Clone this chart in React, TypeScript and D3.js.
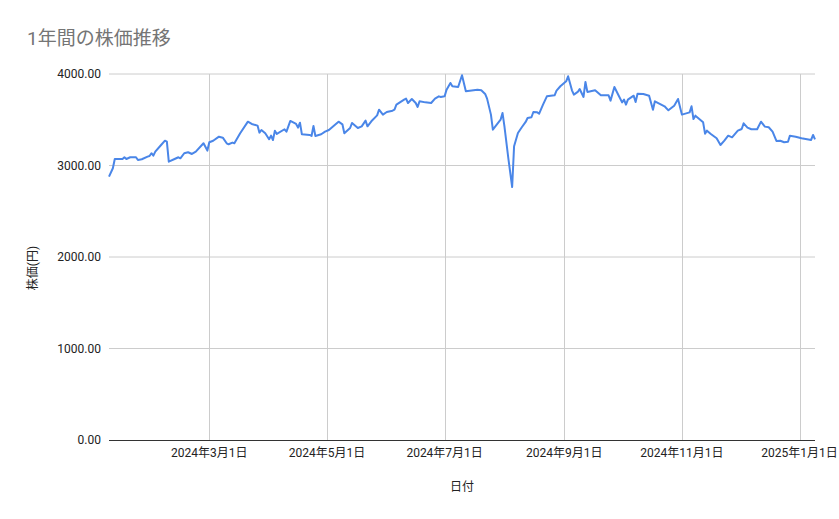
import React, { useEffect, useRef } from 'react';
import * as d3 from 'd3';

const dates: string[] = [
  '2024-01-09', '2024-01-11', '2024-01-12', '2024-01-16', '2024-01-17', '2024-01-18', '2024-01-20', '2024-01-23',
  '2024-01-24', '2024-01-26', '2024-01-29', '2024-01-30', '2024-01-31', '2024-02-01', '2024-02-02', '2024-02-05',
  '2024-02-07', '2024-02-08', '2024-02-09', '2024-02-12', '2024-02-14', '2024-02-15', '2024-02-17', '2024-02-19',
  '2024-02-21', '2024-02-23', '2024-02-27', '2024-02-29', '2024-03-01', '2024-03-03', '2024-03-06', '2024-03-08',
  '2024-03-10', '2024-03-11', '2024-03-13', '2024-03-14', '2024-03-17', '2024-03-21', '2024-03-23', '2024-03-26',
  '2024-03-27', '2024-03-28', '2024-03-30', '2024-04-01', '2024-04-02', '2024-04-03', '2024-04-04', '2024-04-05',
  '2024-04-09', '2024-04-10', '2024-04-12', '2024-04-15', '2024-04-16', '2024-04-17', '2024-04-18', '2024-04-22',
  '2024-04-23', '2024-04-24', '2024-04-25', '2024-04-28', '2024-04-30', '2024-05-02', '2024-05-07', '2024-05-09',
  '2024-05-10', '2024-05-13', '2024-05-14', '2024-05-17', '2024-05-19', '2024-05-21', '2024-05-22', '2024-05-24',
  '2024-05-27', '2024-05-28', '2024-05-30', '2024-06-01', '2024-06-04', '2024-06-05', '2024-06-06', '2024-06-10',
  '2024-06-11', '2024-06-12', '2024-06-14', '2024-06-16', '2024-06-17', '2024-06-18', '2024-06-21', '2024-06-24',
  '2024-06-26', '2024-06-28', '2024-06-29', '2024-07-01', '2024-07-02', '2024-07-04', '2024-07-05', '2024-07-08',
  '2024-07-10', '2024-07-12', '2024-07-14', '2024-07-18', '2024-07-20', '2024-07-22', '2024-07-23', '2024-07-25',
  '2024-07-26', '2024-07-28', '2024-07-30', '2024-07-31', '2024-08-01', '2024-08-03', '2024-08-05', '2024-08-06',
  '2024-08-08', '2024-08-10', '2024-08-12', '2024-08-13', '2024-08-15', '2024-08-16', '2024-08-18', '2024-08-19',
  '2024-08-21', '2024-08-23', '2024-08-25', '2024-08-27', '2024-08-28', '2024-08-30', '2024-09-02', '2024-09-03',
  '2024-09-05', '2024-09-06', '2024-09-08', '2024-09-09', '2024-09-11', '2024-09-12', '2024-09-13', '2024-09-17',
  '2024-09-20', '2024-09-24', '2024-09-25', '2024-09-27', '2024-09-29', '2024-10-01', '2024-10-02', '2024-10-03',
  '2024-10-04', '2024-10-07', '2024-10-08', '2024-10-09', '2024-10-12', '2024-10-15', '2024-10-17', '2024-10-18',
  '2024-10-23', '2024-10-25', '2024-10-28', '2024-10-30', '2024-11-01', '2024-11-05', '2024-11-06', '2024-11-07',
  '2024-11-08', '2024-11-12', '2024-11-13', '2024-11-14', '2024-11-16', '2024-11-19', '2024-11-21', '2024-11-23',
  '2024-11-25', '2024-11-27', '2024-11-30', '2024-12-02', '2024-12-03', '2024-12-05', '2024-12-07', '2024-12-10',
  '2024-12-12', '2024-12-14', '2024-12-16', '2024-12-18', '2024-12-20', '2024-12-22', '2024-12-24', '2024-12-26',
  '2024-12-27', '2024-12-30', '2025-01-02', '2025-01-07', '2025-01-08', '2025-01-09',
];

const prices: number[] = [
  2878, 2970, 3071, 3071, 3090, 3071, 3090, 3090,
  3060, 3068, 3097, 3104, 3134, 3108, 3151, 3224,
  3271, 3260, 3042, 3071, 3090, 3079, 3134, 3145,
  3126, 3151, 3243, 3163, 3254, 3271, 3315, 3304,
  3243, 3232, 3250, 3243, 3352, 3479, 3454, 3436,
  3359, 3388, 3352, 3287, 3326, 3279, 3381, 3345,
  3396, 3370, 3487, 3454, 3414, 3468, 3341, 3334,
  3323, 3432, 3323, 3341, 3370, 3388, 3479, 3450,
  3352, 3410, 3465, 3410, 3428, 3490, 3428, 3483,
  3548, 3610, 3556, 3585, 3599, 3610, 3665, 3720,
  3731, 3683, 3727, 3683, 3640, 3702, 3690, 3683,
  3731, 3756, 3749, 3756, 3829, 3902, 3866, 3858,
  3986, 3811, 3818, 3829, 3822, 3782, 3731, 3556,
  3392, 3446, 3501, 3574, 3428, 3082, 2765, 3210,
  3355, 3418, 3476, 3519, 3527, 3585, 3581, 3567,
  3665, 3756, 3763, 3767, 3818, 3866, 3920, 3975,
  3822, 3774, 3804, 3836, 3749, 3913, 3804, 3822,
  3767, 3767, 3709, 3858, 3774, 3690, 3720, 3665,
  3720, 3763, 3694, 3785, 3782, 3763, 3610, 3702,
  3647, 3603, 3654, 3727, 3556, 3581, 3647, 3508,
  3545, 3472, 3348, 3381, 3345, 3297, 3224, 3271,
  3326, 3308, 3381, 3399, 3461, 3414, 3396, 3396,
  3479, 3425, 3418, 3370, 3268, 3271, 3254, 3260,
  3326, 3315, 3297, 3279, 3334, 3286,
];

const xTicks: string[] = ['2024-03-01', '2024-05-01', '2024-07-01', '2024-09-01', '2024-11-01', '2025-01-01'];
const yTicks: number[] = [0, 1000, 2000, 3000, 4000];

const title = '1年間の株価推移';
const xTitle = '日付';
const yTitle = '株価(円)';

const font = "Roboto, Arial, 'Noto Sans CJK JP', sans-serif";

const StockChart: React.FC = () => {
  const svgRef = useRef<SVGSVGElement | null>(null);

  useEffect(() => {
    if (!svgRef.current) return;
    document.body.style.margin = '0';

    const svg = d3.select(svgRef.current);
    svg.selectAll('*').remove();

    const width = 839;
    const height = 519;
    const margin = { top: 74, right: 24, bottom: 79, left: 109 };

    const parse = d3.timeParse('%Y-%m-%d');
    const data = dates.map((d, i) => ({ date: parse(d) as Date, price: prices[i] }));

    const xScale = d3
      .scaleTime()
      .domain(d3.extent(data, (d) => d.date) as [Date, Date])
      .range([margin.left, width - margin.right]);

    const yScale = d3
      .scaleLinear()
      .domain([0, 4000])
      .range([height - margin.bottom, margin.top]);

    svg.append('rect').attr('width', width).attr('height', height).attr('fill', '#fff');

    // Title
    svg
      .append('text')
      .attr('x', 27)
      .attr('y', 45)
      .attr('font-family', font)
      .attr('font-size', 19)
      .attr('fill', '#757575')
      .text(title);

    // Horizontal gridlines
    svg
      .append('g')
      .selectAll('line')
      .data(yTicks.filter((t) => t !== 0))
      .enter()
      .append('line')
      .attr('x1', margin.left)
      .attr('x2', width - margin.right)
      .attr('y1', (d) => yScale(d))
      .attr('y2', (d) => yScale(d))
      .attr('stroke', '#cccccc')
      .attr('stroke-width', 1);

    // Vertical gridlines
    const xTickDates = xTicks.map((t) => parse(t) as Date);
    svg
      .append('g')
      .selectAll('line')
      .data(xTickDates)
      .enter()
      .append('line')
      .attr('x1', (d) => Math.round(xScale(d)) + 0.5)
      .attr('x2', (d) => Math.round(xScale(d)) + 0.5)
      .attr('y1', margin.top)
      .attr('y2', height - margin.bottom)
      .attr('stroke', '#cccccc')
      .attr('stroke-width', 1);

    // Y axis labels
    svg
      .append('g')
      .selectAll('text')
      .data(yTicks)
      .enter()
      .append('text')
      .attr('x', 101)
      .attr('y', (d) => yScale(d))
      .attr('dy', '0.35em')
      .attr('text-anchor', 'end')
      .attr('font-family', font)
      .attr('font-size', 12)
      .attr('fill', '#222')
      .text((d) => d3.format('.2f')(d));

    // X axis labels
    const fmt = (d: Date) => `${d.getFullYear()}年${d.getMonth() + 1}月${d.getDate()}日`;
    svg
      .append('g')
      .selectAll('text')
      .data(xTickDates)
      .enter()
      .append('text')
      .attr('x', (d) => xScale(d))
      .attr('y', 457)
      .attr('text-anchor', 'middle')
      .attr('font-family', font)
      .attr('font-size', 12)
      .attr('fill', '#222')
      .text((d) => fmt(d));

    // Axis titles
    svg
      .append('text')
      .attr('x', (margin.left + width - margin.right) / 2)
      .attr('y', 491)
      .attr('text-anchor', 'middle')
      .attr('font-family', font)
      .attr('font-size', 12)
      .attr('fill', '#222')
      .text(xTitle);

    svg
      .append('text')
      .attr('transform', `translate(37, 268) rotate(-90)`)
      .attr('text-anchor', 'middle')
      .attr('font-family', font)
      .attr('font-size', 12)
      .attr('fill', '#222')
      .text(yTitle);

    // Price line
    const line = d3
      .line<{ date: Date; price: number }>()
      .x((d) => xScale(d.date))
      .y((d) => yScale(d.price));

    svg
      .append('path')
      .datum(data)
      .attr('fill', 'none')
      .attr('stroke', '#4a86e8')
      .attr('stroke-width', 2)
      .attr('stroke-linejoin', 'round')
      .attr('d', line);

    // Baseline
    svg
      .append('line')
      .attr('x1', margin.left)
      .attr('x2', width - margin.right)
      .attr('y1', yScale(0) + 0.5)
      .attr('y2', yScale(0) + 0.5)
      .attr('stroke', '#333')
      .attr('stroke-width', 1);
  }, []);

  return <svg ref={svgRef} width={839} height={519} style={{ display: 'block' }} />;
};

export default function App() {
  return <StockChart />;
}
